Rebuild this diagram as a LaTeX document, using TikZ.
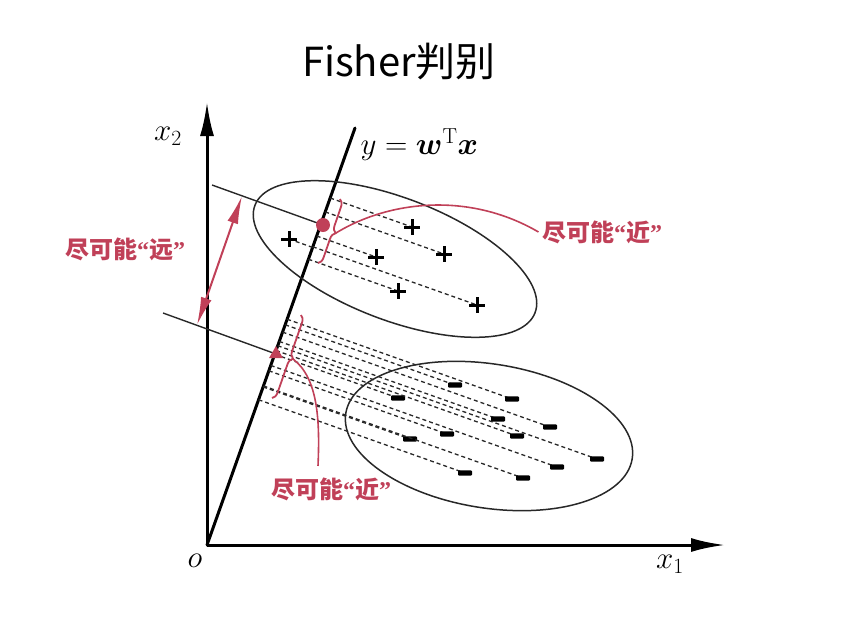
\RequirePackage{fix-cm}
\documentclass[tikz,border=0pt]{standalone}
\usepackage{amsmath}
\usepackage{fontspec}
\newfontfamily\cjk{Noto Sans CJK SC}
\newfontfamily\qfont{Liberation Serif}
\newcommand{\myopenq}{{\qfont\bfseries “}}
\newcommand{\mycloseq}{{\qfont\bfseries ”}}
\usetikzlibrary{calc,arrows.meta,decorations.pathreplacing,shapes.geometric}
\definecolor{myred}{RGB}{192,64,88}
\definecolor{inkgray}{RGB}{40,40,40}
\begin{document}
\begin{tikzpicture}[x=1pt,y=-1pt,
  axis/.style={line width=3pt,-{Latex[length=34pt,width=14pt]}},
  projline/.style={line width=3pt,line cap=round},
  perpline/.style={line width=1.4pt,inkgray},
  ell/.style={line width=1.5pt,inkgray},
  dashline/.style={line width=1.3pt,dash pattern=on 4pt off 3pt,inkgray},
  redarrow/.style={myred,line width=2pt,{Latex[length=28pt,width=11pt]}-{Latex[length=28pt,width=11pt]}},
  redcurve/.style={myred,line width=1.6pt},
  bracestyle/.style={myred,line width=1.8pt,decorate,decoration={brace,amplitude=7pt}},
  redlabel/.style={text=myred,font=\cjk\bfseries\fontsize{24}{24}\selectfont},
  mathlabel/.style={font=\fontsize{31}{31}\selectfont},
  pics/plusmark/.style={code={\draw[line width=3pt] (-8,0)--(8,0) (0,-8)--(0,8);}},
  pics/minusmark/.style={code={\fill[rounded corners=1pt] (-7,-2.7) rectangle (7,2.7);}},
]
\useasboundingbox (0,0) rectangle (852,627);

% title
\node[font=\cjk\fontsize{40}{40}\selectfont] (title) at (399,62) {Fisher判别};

% axes and projection line
\coordinate (O) at (207,545);
\coordinate (Ytip) at (207,102);
\coordinate (Xtip) at (725,545);
\coordinate (W) at (355,128);
\draw[axis] (O) -- (Ytip);
\draw[axis] (O) -- (Xtip);
\draw[projline] (O) -- (W);
\node[mathlabel] (olab) at (195,561) {$o$};
\node[mathlabel] (x1lab) at (670,564) {$x_1$};
\node[mathlabel] (x2lab) at (168,136) {$x_2$};
\node[mathlabel,anchor=west] (wlab) at (357,145) {$y=\boldsymbol{w}^{\mathrm{T}}\boldsymbol{x}$};

% ellipses
\draw[ell,rotate around={-21:(395,259)}] (395,259) ellipse (150 and 61);
\draw[ell,rotate around={-9:(489,436)}] (489,436) ellipse (145 and 72);

% positive samples
\coordinate (p1) at (289,239);
\coordinate (p2) at (412,227);
\coordinate (p3) at (444,254);
\coordinate (p4) at (376,257);
\coordinate (p5) at (398,291);
\coordinate (p6) at (477,305);
\foreach \p in {p1,p2,p3,p4,p5,p6}{
  \draw[dashline] ($(O)!(\p)!(W)$) -- (\p);
  \pic at (\p) {plusmark};
}

% negative samples
\coordinate (n1) at (455,385);
\coordinate (n2) at (398,398);
\coordinate (n3) at (512,399);
\coordinate (n4) at (498,419);
\coordinate (n5) at (550,427);
\coordinate (n6) at (447,434);
\coordinate (n7) at (410,439);
\coordinate (n8) at (517,436);
\coordinate (n9) at (597,459);
\coordinate (n10) at (557,467);
\coordinate (n11) at (465,473);
\coordinate (n12) at (523,478);
\foreach \p in {n1,n2,n3,n4,n5,n6,n7,n8,n9,n10,n11,n12}{
  \draw[dashline] ($(O)!(\p)!(W)$) -- (\p);
  \pic at (\p) {minusmark};
}

% projected means and perpendicular lines
\coordinate (M1) at (323,225);
\coordinate (M2) at (276,354);
\coordinate (L1) at (212,185);
\coordinate (L2) at (163,313);
\draw[perpline] (L1) -- (M1);
\draw[perpline] (L2) -- (M2);
\fill[myred] (M1) circle (7);
\node[regular polygon,regular polygon sides=3,fill=myred,inner sep=0pt,minimum size=16pt] (tri) at (M2) {};

% distance arrow
\coordinate (A1) at (242,196);
\coordinate (A2) at (197,325);
\draw[redarrow] (A2) -- (A1);
\node[redlabel] (farlab) at (125,249) {尽可能\myopenq 远\mycloseq};

% braces
\coordinate (B1t) at (340,199);
\coordinate (B1b) at (318,263);
\coordinate (B2t) at (301,315);
\coordinate (B2b) at (272,398);
\draw[bracestyle] (B1t) -- (B1b);
\draw[bracestyle] (B2t) -- (B2b);

% labels and curves
\node[redlabel] (nearlab1) at (602,232) {尽可能\myopenq 近\mycloseq};
\node[redlabel] (nearlab2) at (331,489) {尽可能\myopenq 近\mycloseq};
\coordinate (T1) at (336,233);
\coordinate (T2) at (293,359);
\draw[redcurve] (T1) .. controls (390,200) and (470,192) .. (nearlab1.west);
\draw[redcurve] (T2) .. controls (318,378) and (320,420) .. ($(nearlab2.north)+(-13,-8)$);
\end{tikzpicture}
\end{document}
